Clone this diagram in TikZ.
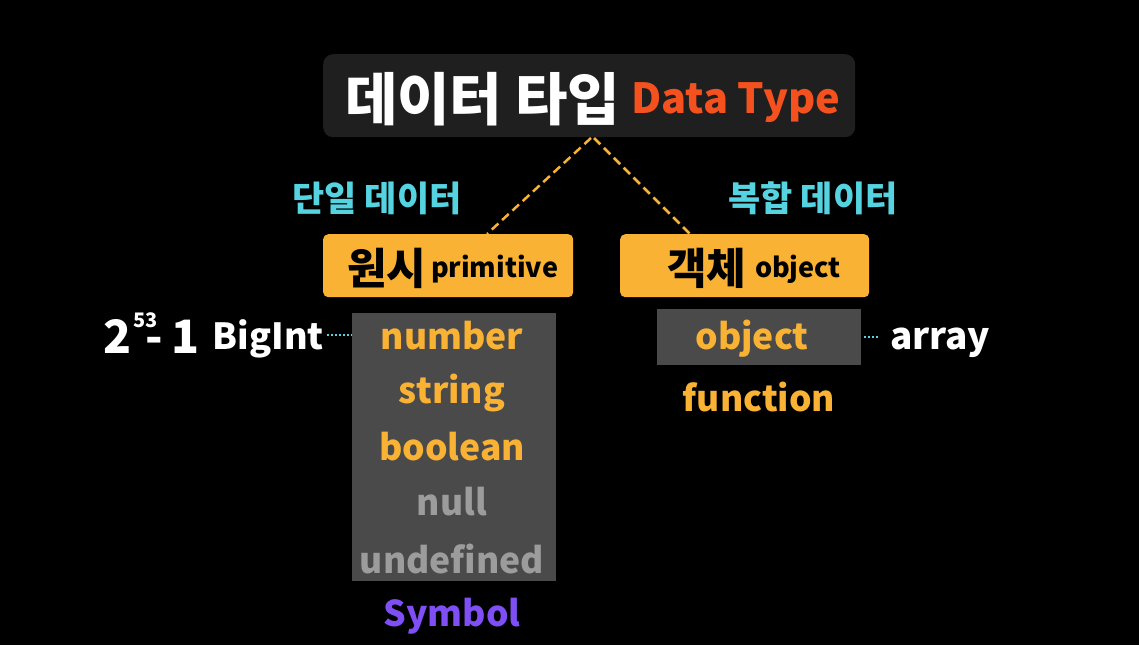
\documentclass[tikz,border=0pt]{standalone}
\usepackage{fontspec}
\newfontfamily\kr{Noto Sans CJK KR}
\newfontfamily\lat{Noto Sans CJK KR}
\definecolor{bg}{HTML}{000000}
\definecolor{titlebox}{HTML}{1F1F1F}
\definecolor{dataorange}{HTML}{F4511E}
\definecolor{boxorange}{HTML}{F9B233}
\definecolor{cyanlbl}{HTML}{55D3E0}
\definecolor{graybox}{HTML}{4A4A4A}
\definecolor{nullgray}{HTML}{9C9C9C}
\definecolor{purp}{HTML}{7F4FF5}
\tikzset{
  txt/.style={inner sep=0pt, outer sep=0pt},
  dashln/.style={draw=boxorange, line width=2.5pt, dash pattern=on 9pt off 5pt},
  dotln/.style={draw=cyanlbl, line width=2pt, dash pattern=on 2pt off 2pt},
  typeitem/.style={txt, font=\lat\bfseries\fontsize{35.5}{38}\selectfont, text=boxorange},
  bigw/.style={txt, text=white, font=\lat\bfseries\fontsize{46}{48}\selectfont},
}
\begin{document}
\begin{tikzpicture}[x=1pt,y=-1pt]
\fill[bg] (0,0) rectangle (1139,645);
\useasboundingbox (0,0) rectangle (1139,645);
% title
\node[fill=titlebox, rounded corners=10pt, minimum width=532pt, minimum height=83pt, anchor=north west, inner sep=0pt] (title) at (323,54) {};
\node[txt, anchor=base west, text=white, font=\kr\bfseries\fontsize{57}{60}\selectfont] (tkr) at (345,120) {데이터 타입};
\node[txt, anchor=base west, text=dataorange, font=\lat\bfseries\fontsize{41.5}{44}\selectfont] (ten) at (631,113) {Data Type};
\coordinate (tl) at (591,138);
\coordinate (tr) at (594,138);
% category boxes
\node[fill=boxorange, rounded corners=5pt, minimum width=250pt, minimum height=63pt, anchor=north west, inner sep=0pt] (prim) at (323,234) {};
\node[fill=boxorange, rounded corners=5pt, minimum width=249pt, minimum height=63pt, anchor=north west, inner sep=0pt] (obj) at (620,234) {};
\coordinate (pt) at (487,234);
\coordinate (ot) at (690,234);
\draw[dashln] (tl) -- (pt);
\draw[dashln] (tr) -- (ot);
\node[txt, anchor=base west, text=black, font=\kr\bfseries\fontsize{43}{46}\selectfont] (wonsi) at (347,284) {원시};
\node[txt, anchor=base west, text=black, font=\lat\bfseries\fontsize{27}{29}\selectfont] (primen) at (431,277) {primitive};
\node[txt, anchor=base west, text=black, font=\kr\bfseries\fontsize{43}{46}\selectfont] (gaek) at (667,284) {객체};
\node[txt, anchor=base west, text=black, font=\lat\bfseries\fontsize{27}{29}\selectfont] (objen) at (755,277) {object};
% labels
\node[txt, text=cyanlbl, font=\kr\bfseries\fontsize{35}{38}\selectfont] (single) at (377,198) {단일 데이터};
\node[txt, text=cyanlbl, font=\kr\bfseries\fontsize{35}{38}\selectfont] (multi) at (813,198) {복합 데이터};
% primitive list
\node[fill=graybox, minimum width=204pt, minimum height=268pt, anchor=north west, inner sep=0pt] (plist) at (352,313) {};
\node[typeitem, anchor=base] (num) at (452,349) {number};
\node[typeitem, anchor=base] (str) at (452,403) {string};
\node[typeitem, anchor=base] (bool) at (452,460) {boolean};
\node[typeitem, anchor=base, text=nullgray] (null) at (452,515) {null};
\node[typeitem, anchor=base, text=nullgray] (undef) at (452,573) {undefined};
\node[typeitem, anchor=base, text=purp] (sym) at (452,626) {Symbol};
% BigInt
\node[txt, anchor=base east, text=white, font=\lat\bfseries\fontsize{36}{38}\selectfont] (bigint) at (324,349) {BigInt};
\node[bigw, anchor=base west] (two) at (103,353) {2};
\node[txt, anchor=base west, text=white, font=\lat\bfseries\fontsize{20}{22}\selectfont] (exp) at (133,327) {53};
\node[bigw, anchor=base west] (minus) at (145,353) {-};
\node[bigw, anchor=base west] (one) at (171,353) {1};
\draw[dotln] (bigint.east |- num.center) ++(3,0) coordinate (bd) -- (plist.west |- num.center);
% object list
\node[fill=graybox, minimum width=204pt, minimum height=56pt, anchor=north west, inner sep=0pt] (olist) at (657,309) {};
\node[typeitem, anchor=base] (oobj) at (752,349) {object};
\node[typeitem, anchor=base] (func) at (759,411) {function};
\node[txt, anchor=base west, text=white, font=\lat\bfseries\fontsize{37}{40}\selectfont] (arr) at (890,349) {array};
\coordinate (ad) at (880,337);
\draw[dotln] (olist.east |- ad) ++(3,0) -- (ad);
\end{tikzpicture}
\end{document}
